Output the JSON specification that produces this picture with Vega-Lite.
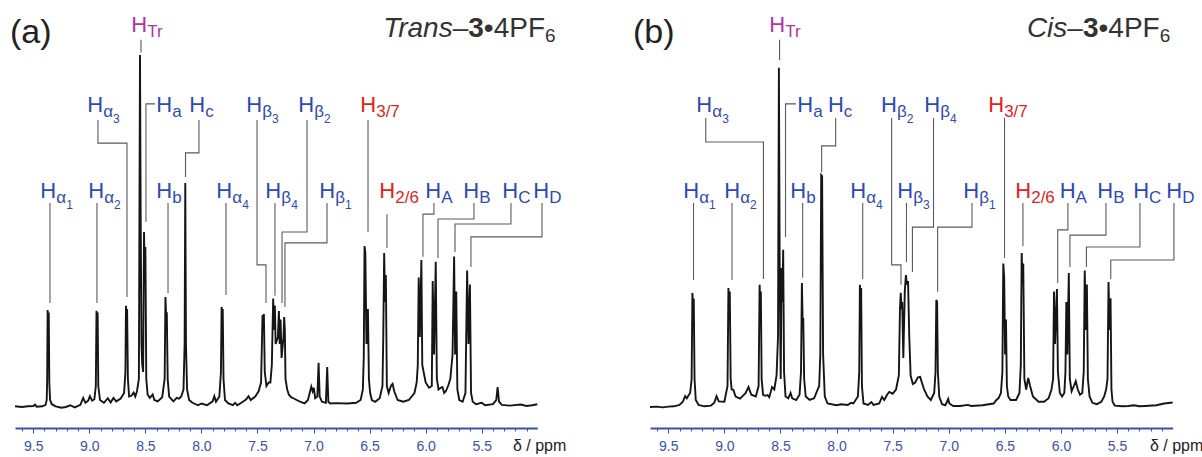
{
"$schema": "https://vega.github.io/schema/vega-lite/v6.json",
"width": 1202, "height": 428,
"autosize": {"type": "none"},
"padding": {"left": 0, "top": 0, "right": 0, "bottom": 29},
"config": {"view": {"stroke": null}, "font": "Liberation Sans"},
"datasets": {
"specA": [
{"ppm":9.663,"v":0.2},{"ppm":9.6,"v":0},{"ppm":9.55,"v":0.2},{"ppm":9.5,"v":0.3},{"ppm":9.485,"v":0.7},{"ppm":9.47,"v":0.1},{"ppm":9.42,"v":0.2},{"ppm":9.39,"v":0.6},{"ppm":9.38,"v":2},{"ppm":9.376,"v":8},{"ppm":9.372,"v":27.7},{"ppm":9.367,"v":25},{"ppm":9.362,"v":27},{"ppm":9.357,"v":7},{"ppm":9.35,"v":2},{"ppm":9.335,"v":0.8},{"ppm":9.3,"v":0.2},{"ppm":9.25,"v":-0.2},{"ppm":9.21,"v":0},{"ppm":9.17,"v":0.5},{"ppm":9.13,"v":-0.1},{"ppm":9.08,"v":0.6},{"ppm":9.055,"v":2.6},{"ppm":9.035,"v":1.2},{"ppm":9.01,"v":1.8},{"ppm":8.995,"v":3.1},{"ppm":8.975,"v":1.8},{"ppm":8.955,"v":2.2},{"ppm":8.942,"v":6},{"ppm":8.936,"v":27.5},{"ppm":8.931,"v":24},{"ppm":8.926,"v":27},{"ppm":8.92,"v":6},{"ppm":8.905,"v":2},{"ppm":8.87,"v":1.2},{"ppm":8.835,"v":2.5},{"ppm":8.81,"v":1.3},{"ppm":8.785,"v":2.6},{"ppm":8.76,"v":1.6},{"ppm":8.72,"v":2.4},{"ppm":8.69,"v":4},{"ppm":8.678,"v":10},{"ppm":8.673,"v":28.9},{"ppm":8.668,"v":25},{"ppm":8.663,"v":28},{"ppm":8.656,"v":8},{"ppm":8.645,"v":3},{"ppm":8.625,"v":3.2},{"ppm":8.605,"v":4.1},{"ppm":8.59,"v":3},{"ppm":8.575,"v":4.5},{"ppm":8.558,"v":8},{"ppm":8.548,"v":100.6},{"ppm":8.542,"v":55},{"ppm":8.535,"v":18},{"ppm":8.528,"v":12},{"ppm":8.52,"v":10},{"ppm":8.512,"v":50},{"ppm":8.506,"v":38},{"ppm":8.5,"v":45.7},{"ppm":8.492,"v":8},{"ppm":8.48,"v":3.5},{"ppm":8.46,"v":2.6},{"ppm":8.435,"v":3.6},{"ppm":8.42,"v":2},{"ppm":8.39,"v":1.6},{"ppm":8.35,"v":2.8},{"ppm":8.328,"v":8},{"ppm":8.321,"v":31.4},{"ppm":8.315,"v":26},{"ppm":8.309,"v":27.1},{"ppm":8.301,"v":8},{"ppm":8.288,"v":3},{"ppm":8.25,"v":1.6},{"ppm":8.22,"v":2.6},{"ppm":8.2,"v":2.4},{"ppm":8.18,"v":3},{"ppm":8.16,"v":5},{"ppm":8.15,"v":18},{"ppm":8.144,"v":64},{"ppm":8.138,"v":18},{"ppm":8.128,"v":5},{"ppm":8.11,"v":2},{"ppm":8.08,"v":1.2},{"ppm":8.03,"v":0.5},{"ppm":8.0,"v":1},{"ppm":7.95,"v":0.5},{"ppm":7.9,"v":1.6},{"ppm":7.885,"v":3.1},{"ppm":7.87,"v":1.5},{"ppm":7.84,"v":3},{"ppm":7.826,"v":10},{"ppm":7.82,"v":28.6},{"ppm":7.815,"v":25},{"ppm":7.81,"v":28},{"ppm":7.803,"v":8},{"ppm":7.79,"v":2},{"ppm":7.76,"v":1},{"ppm":7.72,"v":0.5},{"ppm":7.7,"v":1.2},{"ppm":7.68,"v":0.5},{"ppm":7.63,"v":1.5},{"ppm":7.6,"v":2.2},{"ppm":7.58,"v":3.1},{"ppm":7.56,"v":2},{"ppm":7.52,"v":3},{"ppm":7.49,"v":4.5},{"ppm":7.468,"v":7},{"ppm":7.455,"v":26.3},{"ppm":7.449,"v":22},{"ppm":7.443,"v":26.6},{"ppm":7.435,"v":10},{"ppm":7.42,"v":6},{"ppm":7.4,"v":7},{"ppm":7.385,"v":7},{"ppm":7.372,"v":12},{"ppm":7.36,"v":31},{"ppm":7.353,"v":22},{"ppm":7.345,"v":29},{"ppm":7.338,"v":18},{"ppm":7.318,"v":20},{"ppm":7.309,"v":27.4},{"ppm":7.302,"v":18},{"ppm":7.294,"v":25},{"ppm":7.285,"v":14},{"ppm":7.268,"v":20},{"ppm":7.262,"v":25.7},{"ppm":7.256,"v":22},{"ppm":7.25,"v":8},{"ppm":7.235,"v":5},{"ppm":7.22,"v":3.5},{"ppm":7.2,"v":2.8},{"ppm":7.18,"v":2.5},{"ppm":7.15,"v":2},{"ppm":7.12,"v":1.5},{"ppm":7.08,"v":1},{"ppm":7.05,"v":2},{"ppm":7.02,"v":5.8},{"ppm":7.008,"v":4.5},{"ppm":6.998,"v":5.5},{"ppm":6.985,"v":2.5},{"ppm":6.966,"v":3},{"ppm":6.955,"v":12.6},{"ppm":6.945,"v":3},{"ppm":6.925,"v":1.5},{"ppm":6.89,"v":1.2},{"ppm":6.878,"v":11.4},{"ppm":6.868,"v":1.5},{"ppm":6.85,"v":1},{"ppm":6.8,"v":1.1},{"ppm":6.7,"v":1},{"ppm":6.62,"v":1.2},{"ppm":6.58,"v":2},{"ppm":6.56,"v":5},{"ppm":6.552,"v":14},{"ppm":6.545,"v":46},{"ppm":6.538,"v":44},{"ppm":6.528,"v":18},{"ppm":6.515,"v":28},{"ppm":6.506,"v":8},{"ppm":6.495,"v":4},{"ppm":6.48,"v":2},{"ppm":6.45,"v":1.5},{"ppm":6.41,"v":2.5},{"ppm":6.385,"v":6},{"ppm":6.378,"v":20},{"ppm":6.37,"v":44},{"ppm":6.362,"v":30},{"ppm":6.355,"v":37.7},{"ppm":6.346,"v":6},{"ppm":6.33,"v":4},{"ppm":6.31,"v":6},{"ppm":6.295,"v":6.6},{"ppm":6.28,"v":4.5},{"ppm":6.25,"v":2},{"ppm":6.2,"v":1.5},{"ppm":6.15,"v":2},{"ppm":6.1,"v":4},{"ppm":6.08,"v":7},{"ppm":6.07,"v":12},{"ppm":6.062,"v":37},{"ppm":6.052,"v":20},{"ppm":6.038,"v":42},{"ppm":6.03,"v":12},{"ppm":6.0,"v":7},{"ppm":5.97,"v":5.5},{"ppm":5.945,"v":6},{"ppm":5.937,"v":36},{"ppm":5.925,"v":15},{"ppm":5.91,"v":41.5},{"ppm":5.9,"v":8},{"ppm":5.885,"v":5},{"ppm":5.865,"v":5.5},{"ppm":5.85,"v":5.7},{"ppm":5.835,"v":4},{"ppm":5.82,"v":4.5},{"ppm":5.8,"v":6},{"ppm":5.78,"v":8},{"ppm":5.76,"v":15},{"ppm":5.746,"v":43},{"ppm":5.737,"v":15},{"ppm":5.727,"v":33},{"ppm":5.717,"v":5},{"ppm":5.7,"v":2},{"ppm":5.67,"v":1.5},{"ppm":5.645,"v":4},{"ppm":5.63,"v":39},{"ppm":5.618,"v":18},{"ppm":5.605,"v":35},{"ppm":5.595,"v":4},{"ppm":5.58,"v":1.5},{"ppm":5.55,"v":0.8},{"ppm":5.5,"v":1.2},{"ppm":5.47,"v":0.5},{"ppm":5.4,"v":0.8},{"ppm":5.37,"v":2},{"ppm":5.358,"v":5.7},{"ppm":5.345,"v":1.5},{"ppm":5.32,"v":0.6},{"ppm":5.25,"v":0.4},{"ppm":5.15,"v":0.7},{"ppm":5.1,"v":0.3},{"ppm":5.05,"v":0.5},{"ppm":5.004,"v":0.8}
],
"specB": [
{"ppm":9.663,"v":0},{"ppm":9.6,"v":0.1},{"ppm":9.55,"v":-0.1},{"ppm":9.5,"v":0.1},{"ppm":9.45,"v":0.2},{"ppm":9.4,"v":0.6},{"ppm":9.37,"v":1.5},{"ppm":9.35,"v":3.1},{"ppm":9.335,"v":2.5},{"ppm":9.32,"v":3.3},{"ppm":9.305,"v":4},{"ppm":9.292,"v":8},{"ppm":9.285,"v":32.6},{"ppm":9.279,"v":28},{"ppm":9.273,"v":31},{"ppm":9.266,"v":8},{"ppm":9.255,"v":2},{"ppm":9.23,"v":0.6},{"ppm":9.18,"v":0.2},{"ppm":9.12,"v":0.4},{"ppm":9.09,"v":1.2},{"ppm":9.07,"v":3.1},{"ppm":9.05,"v":1.6},{"ppm":9.0,"v":1.5},{"ppm":8.972,"v":6},{"ppm":8.964,"v":34},{"ppm":8.958,"v":30},{"ppm":8.952,"v":33},{"ppm":8.944,"v":8},{"ppm":8.935,"v":5},{"ppm":8.92,"v":4.9},{"ppm":8.9,"v":3},{"ppm":8.86,"v":2.4},{"ppm":8.81,"v":4},{"ppm":8.785,"v":5.7},{"ppm":8.76,"v":3.5},{"ppm":8.72,"v":3},{"ppm":8.695,"v":6},{"ppm":8.686,"v":34.9},{"ppm":8.68,"v":30},{"ppm":8.675,"v":33},{"ppm":8.668,"v":8},{"ppm":8.655,"v":3.5},{"ppm":8.635,"v":3.2},{"ppm":8.615,"v":3.4},{"ppm":8.6,"v":2.8},{"ppm":8.575,"v":5.7},{"ppm":8.555,"v":5},{"ppm":8.535,"v":9},{"ppm":8.522,"v":20},{"ppm":8.514,"v":96.9},{"ppm":8.507,"v":40},{"ppm":8.498,"v":8},{"ppm":8.49,"v":39.7},{"ppm":8.483,"v":30},{"ppm":8.476,"v":44.9},{"ppm":8.468,"v":10},{"ppm":8.455,"v":3},{"ppm":8.43,"v":2.5},{"ppm":8.41,"v":4},{"ppm":8.395,"v":2.5},{"ppm":8.36,"v":2},{"ppm":8.33,"v":3.5},{"ppm":8.317,"v":10},{"ppm":8.309,"v":35.4},{"ppm":8.303,"v":25},{"ppm":8.297,"v":25.4},{"ppm":8.289,"v":8},{"ppm":8.275,"v":3},{"ppm":8.24,"v":2},{"ppm":8.2,"v":2.5},{"ppm":8.17,"v":4.9},{"ppm":8.155,"v":6},{"ppm":8.145,"v":15},{"ppm":8.137,"v":66.3},{"ppm":8.129,"v":66},{"ppm":8.12,"v":15},{"ppm":8.105,"v":3},{"ppm":8.08,"v":1},{"ppm":8.0,"v":0.5},{"ppm":7.96,"v":0.8},{"ppm":7.9,"v":0.6},{"ppm":7.87,"v":1.2},{"ppm":7.85,"v":1},{"ppm":7.81,"v":3},{"ppm":7.798,"v":10},{"ppm":7.792,"v":34.9},{"ppm":7.786,"v":30},{"ppm":7.781,"v":34},{"ppm":7.774,"v":6},{"ppm":7.76,"v":1},{"ppm":7.72,"v":0.6},{"ppm":7.69,"v":1.4},{"ppm":7.67,"v":0.6},{"ppm":7.62,"v":1},{"ppm":7.595,"v":2.9},{"ppm":7.575,"v":2},{"ppm":7.55,"v":3.5},{"ppm":7.53,"v":4.3},{"ppm":7.5,"v":3.8},{"ppm":7.47,"v":5},{"ppm":7.445,"v":9},{"ppm":7.435,"v":28},{"ppm":7.428,"v":32.6},{"ppm":7.422,"v":28},{"ppm":7.415,"v":30},{"ppm":7.405,"v":14},{"ppm":7.392,"v":33},{"ppm":7.382,"v":37.7},{"ppm":7.373,"v":35},{"ppm":7.363,"v":36},{"ppm":7.352,"v":20},{"ppm":7.34,"v":9},{"ppm":7.32,"v":6.6},{"ppm":7.3,"v":7},{"ppm":7.275,"v":8.5},{"ppm":7.255,"v":8.6},{"ppm":7.24,"v":7},{"ppm":7.22,"v":5},{"ppm":7.19,"v":3},{"ppm":7.16,"v":2},{"ppm":7.13,"v":4},{"ppm":7.118,"v":10},{"ppm":7.111,"v":30.6},{"ppm":7.104,"v":30},{"ppm":7.097,"v":10},{"ppm":7.085,"v":3},{"ppm":7.06,"v":0.8},{"ppm":7.03,"v":0.5},{"ppm":7.005,"v":2.3},{"ppm":6.995,"v":1},{"ppm":6.96,"v":0.3},{"ppm":6.9,"v":0.3},{"ppm":6.83,"v":0.6},{"ppm":6.8,"v":0.3},{"ppm":6.7,"v":0.5},{"ppm":6.6,"v":1},{"ppm":6.575,"v":2},{"ppm":6.555,"v":2.6},{"ppm":6.535,"v":4},{"ppm":6.522,"v":10},{"ppm":6.514,"v":41},{"ppm":6.506,"v":37},{"ppm":6.498,"v":15},{"ppm":6.49,"v":25},{"ppm":6.482,"v":6},{"ppm":6.47,"v":3},{"ppm":6.45,"v":2},{"ppm":6.4,"v":2},{"ppm":6.37,"v":4},{"ppm":6.358,"v":12},{"ppm":6.35,"v":44},{"ppm":6.343,"v":35},{"ppm":6.336,"v":41},{"ppm":6.326,"v":8},{"ppm":6.31,"v":5},{"ppm":6.292,"v":8.3},{"ppm":6.275,"v":6},{"ppm":6.25,"v":3},{"ppm":6.2,"v":1.5},{"ppm":6.15,"v":1.5},{"ppm":6.11,"v":2.5},{"ppm":6.085,"v":4.9},{"ppm":6.07,"v":8},{"ppm":6.062,"v":33},{"ppm":6.053,"v":18},{"ppm":6.036,"v":33.7},{"ppm":6.027,"v":10},{"ppm":6.01,"v":4},{"ppm":5.99,"v":3},{"ppm":5.97,"v":4},{"ppm":5.96,"v":10},{"ppm":5.952,"v":30},{"ppm":5.943,"v":15},{"ppm":5.93,"v":38.3},{"ppm":5.921,"v":8},{"ppm":5.905,"v":4.5},{"ppm":5.885,"v":6},{"ppm":5.868,"v":7.4},{"ppm":5.85,"v":5},{"ppm":5.83,"v":3.5},{"ppm":5.81,"v":4},{"ppm":5.797,"v":10},{"ppm":5.788,"v":39},{"ppm":5.779,"v":22},{"ppm":5.769,"v":35},{"ppm":5.76,"v":8},{"ppm":5.745,"v":3},{"ppm":5.72,"v":1.2},{"ppm":5.68,"v":0.8},{"ppm":5.64,"v":1.5},{"ppm":5.615,"v":3},{"ppm":5.598,"v":4.9},{"ppm":5.585,"v":8},{"ppm":5.576,"v":35.7},{"ppm":5.567,"v":22},{"ppm":5.558,"v":31.1},{"ppm":5.55,"v":5},{"ppm":5.54,"v":1.5},{"ppm":5.52,"v":0.4},{"ppm":5.45,"v":0.2},{"ppm":5.4,"v":0.3},{"ppm":5.35,"v":0.5},{"ppm":5.3,"v":0.2},{"ppm":5.25,"v":0.3},{"ppm":5.15,"v":0.5},{"ppm":5.08,"v":1},{"ppm":5.004,"v":1.3}
],
"leadA": [
{"id":"a1","seq":1,"ppm":9.351,"v":58.3},{"id":"a1","seq":2,"ppm":9.351,"v":29.7},
{"id":"a2","seq":1,"ppm":8.932,"v":58.3},{"id":"a2","seq":2,"ppm":8.932,"v":29.7},
{"id":"a3","seq":1,"ppm":8.923,"v":82},{"id":"a3","seq":2,"ppm":8.923,"v":75.4},{"id":"a3","seq":3,"ppm":8.664,"v":75.4},{"id":"a3","seq":4,"ppm":8.664,"v":31.4},
{"id":"a4","seq":1,"ppm":8.539,"v":104.9},{"id":"a4","seq":2,"ppm":8.539,"v":101.3},
{"id":"a5","seq":1,"ppm":8.414,"v":86.6},{"id":"a5","seq":2,"ppm":8.495,"v":86.6},{"id":"a5","seq":3,"ppm":8.495,"v":52.9},
{"id":"a6","seq":1,"ppm":8.022,"v":82},{"id":"a6","seq":2,"ppm":8.022,"v":72.6},{"id":"a6","seq":3,"ppm":8.142,"v":72.6},{"id":"a6","seq":4,"ppm":8.142,"v":65.7},
{"id":"a7","seq":1,"ppm":8.298,"v":58.3},{"id":"a7","seq":2,"ppm":8.298,"v":32.6},
{"id":"a8","seq":1,"ppm":7.781,"v":58.3},{"id":"a8","seq":2,"ppm":7.781,"v":32},
{"id":"a9","seq":1,"ppm":7.504,"v":82},{"id":"a9","seq":2,"ppm":7.504,"v":40.6},{"id":"a9","seq":3,"ppm":7.424,"v":40.6},{"id":"a9","seq":4,"ppm":7.424,"v":29.7},
{"id":"a10","seq":1,"ppm":7.344,"v":58.3},{"id":"a10","seq":2,"ppm":7.344,"v":31.8},
{"id":"a11","seq":1,"ppm":7.058,"v":82},{"id":"a11","seq":2,"ppm":7.058,"v":50},{"id":"a11","seq":3,"ppm":7.281,"v":50},{"id":"a11","seq":4,"ppm":7.281,"v":29.7},
{"id":"a12","seq":1,"ppm":6.88,"v":58.3},{"id":"a12","seq":2,"ppm":6.88,"v":46.9},{"id":"a12","seq":3,"ppm":7.255,"v":46.9},{"id":"a12","seq":4,"ppm":7.255,"v":28.6},
{"id":"a13","seq":1,"ppm":6.514,"v":82},{"id":"a13","seq":2,"ppm":6.514,"v":50},
{"id":"a14","seq":1,"ppm":6.345,"v":55.1},{"id":"a14","seq":2,"ppm":6.345,"v":45.4},
{"id":"a15","seq":1,"ppm":5.926,"v":58.3},{"id":"a15","seq":2,"ppm":5.926,"v":55.1},{"id":"a15","seq":3,"ppm":6.024,"v":55.1},{"id":"a15","seq":4,"ppm":6.024,"v":42.9},
{"id":"a16","seq":1,"ppm":5.569,"v":58.3},{"id":"a16","seq":2,"ppm":5.569,"v":53.7},{"id":"a16","seq":3,"ppm":5.89,"v":53.7},{"id":"a16","seq":4,"ppm":5.89,"v":42.6},
{"id":"a17","seq":1,"ppm":5.239,"v":58.3},{"id":"a17","seq":2,"ppm":5.239,"v":52.3},{"id":"a17","seq":3,"ppm":5.738,"v":52.3},{"id":"a17","seq":4,"ppm":5.738,"v":44.3},
{"id":"a18","seq":1,"ppm":4.962,"v":58.3},{"id":"a18","seq":2,"ppm":4.962,"v":48.6},{"id":"a18","seq":3,"ppm":5.596,"v":48.6},{"id":"a18","seq":4,"ppm":5.596,"v":40}
],
"leadB": [
{"id":"b1","seq":1,"ppm":9.275,"v":58.3},{"id":"b1","seq":2,"ppm":9.275,"v":36.3},
{"id":"b2","seq":1,"ppm":8.932,"v":58.3},{"id":"b2","seq":2,"ppm":8.932,"v":36.3},
{"id":"b3","seq":1,"ppm":9.166,"v":82.6},{"id":"b3","seq":2,"ppm":9.166,"v":75.7},{"id":"b3","seq":3,"ppm":8.652,"v":75.7},{"id":"b3","seq":4,"ppm":8.652,"v":36.6},
{"id":"b4","seq":1,"ppm":8.508,"v":104.9},{"id":"b4","seq":2,"ppm":8.508,"v":99.1},
{"id":"b5","seq":1,"ppm":8.362,"v":86.6},{"id":"b5","seq":2,"ppm":8.455,"v":86.6},{"id":"b5","seq":3,"ppm":8.455,"v":48.6},
{"id":"b6","seq":1,"ppm":8.008,"v":82.6},{"id":"b6","seq":2,"ppm":8.008,"v":74.6},{"id":"b6","seq":3,"ppm":8.133,"v":74.6},{"id":"b6","seq":4,"ppm":8.133,"v":67.1},
{"id":"b7","seq":1,"ppm":8.302,"v":58.3},{"id":"b7","seq":2,"ppm":8.302,"v":36.9},
{"id":"b8","seq":1,"ppm":7.767,"v":58.3},{"id":"b8","seq":2,"ppm":7.767,"v":36.6},
{"id":"b9","seq":1,"ppm":7.509,"v":82.6},{"id":"b9","seq":2,"ppm":7.509,"v":40.6},{"id":"b9","seq":3,"ppm":7.426,"v":40.6},{"id":"b9","seq":4,"ppm":7.426,"v":34.9},
{"id":"b10","seq":1,"ppm":7.377,"v":58.3},{"id":"b10","seq":2,"ppm":7.377,"v":41.4},
{"id":"b11","seq":1,"ppm":7.136,"v":82.6},{"id":"b11","seq":2,"ppm":7.136,"v":51.4},{"id":"b11","seq":3,"ppm":7.324,"v":51.4},{"id":"b11","seq":4,"ppm":7.324,"v":38.6},
{"id":"b12","seq":1,"ppm":6.793,"v":58.3},{"id":"b12","seq":2,"ppm":6.793,"v":51.4},{"id":"b12","seq":3,"ppm":7.099,"v":51.4},{"id":"b12","seq":4,"ppm":7.099,"v":32.9},
{"id":"b13","seq":1,"ppm":6.503,"v":82.6},{"id":"b13","seq":2,"ppm":6.503,"v":42.6},
{"id":"b14","seq":1,"ppm":6.339,"v":58.3},{"id":"b14","seq":2,"ppm":6.339,"v":46},
{"id":"b15","seq":1,"ppm":5.938,"v":58.3},{"id":"b15","seq":2,"ppm":5.938,"v":50.6},{"id":"b15","seq":3,"ppm":6.029,"v":50.6},{"id":"b15","seq":4,"ppm":6.029,"v":35.4},
{"id":"b16","seq":1,"ppm":5.599,"v":58.3},{"id":"b16","seq":2,"ppm":5.599,"v":49.1},{"id":"b16","seq":3,"ppm":5.92,"v":49.1},{"id":"b16","seq":4,"ppm":5.92,"v":40},
{"id":"b17","seq":1,"ppm":5.296,"v":58.3},{"id":"b17","seq":2,"ppm":5.296,"v":45.7},{"id":"b17","seq":3,"ppm":5.773,"v":45.7},{"id":"b17","seq":4,"ppm":5.773,"v":40},
{"id":"b18","seq":1,"ppm":4.993,"v":58.3},{"id":"b18","seq":2,"ppm":4.993,"v":42},{"id":"b18","seq":3,"ppm":5.556,"v":42},{"id":"b18","seq":4,"ppm":5.556,"v":36.6}
],
"labA": [
{"ppm":8.626,"v":107.1,"s":"Tr","ss":"","k":"t"},
{"ppm":9.018,"v":84.3,"s":"α","ss":"3","k":"p"},{"ppm":8.403,"v":84.3,"s":"a","ss":"","k":"p"},{"ppm":8.108,"v":84.3,"s":"c","ss":"","k":"p"},{"ppm":7.6,"v":84.3,"s":"β","ss":"3","k":"p"},{"ppm":7.136,"v":84.3,"s":"β","ss":"2","k":"p"},{"ppm":6.583,"v":84.3,"s":"3/7","ss":"","k":"c"},
{"ppm":9.437,"v":59.7,"s":"α","ss":"1","k":"p"},{"ppm":9.009,"v":59.7,"s":"α","ss":"2","k":"p"},{"ppm":8.403,"v":59.7,"s":"b","ss":"","k":"p"},{"ppm":7.867,"v":59.7,"s":"α","ss":"4","k":"p"},{"ppm":7.43,"v":59.7,"s":"β","ss":"4","k":"p"},{"ppm":6.949,"v":59.7,"s":"β","ss":"1","k":"p"},{"ppm":6.413,"v":59.7,"s":"2/6","ss":"","k":"c"},{"ppm":6.003,"v":59.7,"s":"A","ss":"","k":"p"},{"ppm":5.664,"v":59.7,"s":"B","ss":"","k":"p"},{"ppm":5.316,"v":59.7,"s":"C","ss":"","k":"p"},{"ppm":5.04,"v":59.7,"s":"D","ss":"","k":"p"}
],
"labB": [
{"ppm":8.6,"v":107.1,"s":"Tr","ss":"","k":"t"},
{"ppm":9.25,"v":84.3,"s":"α","ss":"3","k":"p"},{"ppm":8.35,"v":84.3,"s":"a","ss":"","k":"p"},{"ppm":8.077,"v":84.3,"s":"c","ss":"","k":"p"},{"ppm":7.604,"v":84.3,"s":"β","ss":"2","k":"p"},{"ppm":7.218,"v":84.3,"s":"β","ss":"4","k":"p"},{"ppm":6.648,"v":84.3,"s":"3/7","ss":"","k":"c"},
{"ppm":9.366,"v":59.7,"s":"α","ss":"1","k":"p"},{"ppm":9.001,"v":59.7,"s":"α","ss":"2","k":"p"},{"ppm":8.413,"v":59.7,"s":"b","ss":"","k":"p"},{"ppm":7.878,"v":59.7,"s":"α","ss":"4","k":"p"},{"ppm":7.459,"v":59.7,"s":"β","ss":"3","k":"p"},{"ppm":6.871,"v":59.7,"s":"β","ss":"1","k":"p"},{"ppm":6.407,"v":59.7,"s":"2/6","ss":"","k":"c"},{"ppm":6.011,"v":59.7,"s":"A","ss":"","k":"p"},{"ppm":5.676,"v":59.7,"s":"B","ss":"","k":"p"},{"ppm":5.356,"v":59.7,"s":"C","ss":"","k":"p"},{"ppm":5.061,"v":59.7,"s":"D","ss":"","k":"p"}
],
"annA": [
{"role":"tag","ppm":9.708,"v":104,"txt":"(a)"},
{"role":"title","ppm":5.759,"v":105.7,"txt":"Trans"},
{"role":"unit","ppm":5.221,"v":-12.6,"txt":"δ / ppm"}
],
"annB": [
{"role":"tag","ppm":9.815,"v":104,"txt":"(b)"},
{"role":"title","ppm":5.943,"v":105.7,"txt":"Cis"},
{"role":"unit","ppm":5.207,"v":-12.6,"txt":"δ / ppm"}
]
},
"layer": [
{
"encoding":{
 "x":{"field":"ppm","type":"quantitative","scale":{"domain":[9.663,5.004],"range":[15,537.3],"nice":false,"zero":false},
   "axis":{"orient":"bottom","title":null,"grid":false,"values":[9.6,9.5,9.4,9.3,9.2,9.1,9.0,8.9,8.8,8.7,8.6,8.5,8.4,8.3,8.2,8.1,8.0,7.9,7.8,7.7,7.6,7.5,7.4,7.3,7.2,7.1,7.0,6.9,6.8,6.7,6.6,6.5,6.4,6.3,6.2,6.1,6.0,5.9,5.8,5.7,5.6,5.5,5.4,5.3,5.2,5.1],
   "domainColor":"#3b4fb3","domainWidth":2,"tickColor":"#3b4fb3","tickWidth":1,
   "tickSize":{"condition":{"test":"abs(datum.value*2-round(datum.value*2))<0.01","value":5},"value":3},
   "labelExpr":"abs(datum.value*2-round(datum.value*2))<0.01 ? format(datum.value,'.1f') : ''",
   "labelColor":"#3b4fb3","labelFont":"Liberation Sans","labelFontSize":14,"labelPadding":6,"labelOverlap":false,"labelFlush":false}},
 "y":{"field":"v","type":"quantitative","scale":{"domain":[-6,116.29],"nice":false,"zero":false},"axis":null}
},
"layer": [
{"data":{"name":"specA"},"mark":{"type":"line","color":"#151515","strokeWidth":1.9}},
{"data":{"name":"leadA"},"mark":{"type":"line","color":"#5a5a5a","strokeWidth":1.1},
 "encoding":{"detail":{"field":"id","type":"nominal"},"order":{"field":"seq","type":"quantitative"}}},
{"data":{"name":"labA"},"mark":{"type":"text","text":"H","fontSize":22,"align":"left","baseline":"alphabetic"},
 "encoding":{"color":{"field":"k","type":"nominal","scale":{"domain":["p","c","t"],"range":["#2d4ab3","#e2231a","#b1359e"]},"legend":null}}},
{"data":{"name":"labA"},"mark":{"type":"text","fontSize":17,"align":"left","baseline":"alphabetic","dx":15.9,"dy":5},
 "encoding":{"text":{"field":"s"},"color":{"field":"k","type":"nominal","scale":{"domain":["p","c","t"],"range":["#2d4ab3","#e2231a","#b1359e"]},"legend":null}}},
{"data":{"name":"labA"},"mark":{"type":"text","fontSize":12,"align":"left","baseline":"alphabetic","dx":25.8,"dy":11},
 "encoding":{"text":{"field":"ss"},"color":{"field":"k","type":"nominal","scale":{"domain":["p","c","t"],"range":["#2d4ab3","#e2231a","#b1359e"]},"legend":null}}},
{"data":{"name":"annA"},"transform":[{"filter":"datum.role==='tag'"}],"mark":{"type":"text","fontSize":34,"align":"left","baseline":"alphabetic","color":"#222222"},"encoding":{"text":{"field":"txt"}}},
{"data":{"name":"annA"},"transform":[{"filter":"datum.role==='title'"}],"mark":{"type":"text","fontSize":28,"fontStyle":"italic","align":"right","baseline":"alphabetic","color":"#333333"},"encoding":{"text":{"field":"txt"}}},
{"data":{"name":"annA"},"transform":[{"filter":"datum.role==='title'"}],"mark":{"type":"text","text":"–","fontSize":28,"align":"left","baseline":"alphabetic","color":"#333333"}},
{"data":{"name":"annA"},"transform":[{"filter":"datum.role==='title'"}],"mark":{"type":"text","text":"3","fontSize":28,"fontWeight":"bold","align":"left","baseline":"alphabetic","color":"#333333","dx":15.6}},
{"data":{"name":"annA"},"transform":[{"filter":"datum.role==='title'"}],"mark":{"type":"text","text":"•4PF","fontSize":28,"align":"left","baseline":"alphabetic","color":"#333333","dx":31.2}},
{"data":{"name":"annA"},"transform":[{"filter":"datum.role==='title'"}],"mark":{"type":"text","text":"6","fontSize":19,"align":"left","baseline":"alphabetic","color":"#333333","dx":92.4,"dy":5}},
{"data":{"name":"annA"},"transform":[{"filter":"datum.role==='unit'"}],"mark":{"type":"text","fontSize":16,"align":"left","baseline":"alphabetic","color":"#222222"},"encoding":{"text":{"field":"txt"}}}
]
},
{
"encoding":{
 "x":{"field":"ppm","type":"quantitative","scale":{"domain":[9.663,5.004],"range":[650,1172.7],"nice":false,"zero":false},
   "axis":{"orient":"bottom","title":null,"grid":false,"values":[9.6,9.5,9.4,9.3,9.2,9.1,9.0,8.9,8.8,8.7,8.6,8.5,8.4,8.3,8.2,8.1,8.0,7.9,7.8,7.7,7.6,7.5,7.4,7.3,7.2,7.1,7.0,6.9,6.8,6.7,6.6,6.5,6.4,6.3,6.2,6.1,6.0,5.9,5.8,5.7,5.6,5.5,5.4,5.3,5.2,5.1],
   "domainColor":"#3b4fb3","domainWidth":2,"tickColor":"#3b4fb3","tickWidth":1,
   "tickSize":{"condition":{"test":"abs(datum.value*2-round(datum.value*2))<0.01","value":5},"value":3},
   "labelExpr":"abs(datum.value*2-round(datum.value*2))<0.01 ? format(datum.value,'.1f') : ''",
   "labelColor":"#3b4fb3","labelFont":"Liberation Sans","labelFontSize":14,"labelPadding":6,"labelOverlap":false,"labelFlush":false}},
 "y":{"field":"v","type":"quantitative","scale":{"domain":[-6,116.29],"nice":false,"zero":false},"axis":null}
},
"layer": [
{"data":{"name":"specB"},"mark":{"type":"line","color":"#151515","strokeWidth":1.9}},
{"data":{"name":"leadB"},"mark":{"type":"line","color":"#5a5a5a","strokeWidth":1.1},
 "encoding":{"detail":{"field":"id","type":"nominal"},"order":{"field":"seq","type":"quantitative"}}},
{"data":{"name":"labB"},"mark":{"type":"text","text":"H","fontSize":22,"align":"left","baseline":"alphabetic"},
 "encoding":{"color":{"field":"k","type":"nominal","scale":{"domain":["p","c","t"],"range":["#2d4ab3","#e2231a","#b1359e"]},"legend":null}}},
{"data":{"name":"labB"},"mark":{"type":"text","fontSize":17,"align":"left","baseline":"alphabetic","dx":15.9,"dy":5},
 "encoding":{"text":{"field":"s"},"color":{"field":"k","type":"nominal","scale":{"domain":["p","c","t"],"range":["#2d4ab3","#e2231a","#b1359e"]},"legend":null}}},
{"data":{"name":"labB"},"mark":{"type":"text","fontSize":12,"align":"left","baseline":"alphabetic","dx":25.8,"dy":11},
 "encoding":{"text":{"field":"ss"},"color":{"field":"k","type":"nominal","scale":{"domain":["p","c","t"],"range":["#2d4ab3","#e2231a","#b1359e"]},"legend":null}}},
{"data":{"name":"annB"},"transform":[{"filter":"datum.role==='tag'"}],"mark":{"type":"text","fontSize":34,"align":"left","baseline":"alphabetic","color":"#222222"},"encoding":{"text":{"field":"txt"}}},
{"data":{"name":"annB"},"transform":[{"filter":"datum.role==='title'"}],"mark":{"type":"text","fontSize":28,"fontStyle":"italic","align":"right","baseline":"alphabetic","color":"#333333"},"encoding":{"text":{"field":"txt"}}},
{"data":{"name":"annB"},"transform":[{"filter":"datum.role==='title'"}],"mark":{"type":"text","text":"–","fontSize":28,"align":"left","baseline":"alphabetic","color":"#333333"}},
{"data":{"name":"annB"},"transform":[{"filter":"datum.role==='title'"}],"mark":{"type":"text","text":"3","fontSize":28,"fontWeight":"bold","align":"left","baseline":"alphabetic","color":"#333333","dx":15.6}},
{"data":{"name":"annB"},"transform":[{"filter":"datum.role==='title'"}],"mark":{"type":"text","text":"•4PF","fontSize":28,"align":"left","baseline":"alphabetic","color":"#333333","dx":31.2}},
{"data":{"name":"annB"},"transform":[{"filter":"datum.role==='title'"}],"mark":{"type":"text","text":"6","fontSize":19,"align":"left","baseline":"alphabetic","color":"#333333","dx":92.4,"dy":5}},
{"data":{"name":"annB"},"transform":[{"filter":"datum.role==='unit'"}],"mark":{"type":"text","fontSize":16,"align":"left","baseline":"alphabetic","color":"#222222"},"encoding":{"text":{"field":"txt"}}}
]
}
],
"resolve": {"scale": {"x": "independent"}}
}
